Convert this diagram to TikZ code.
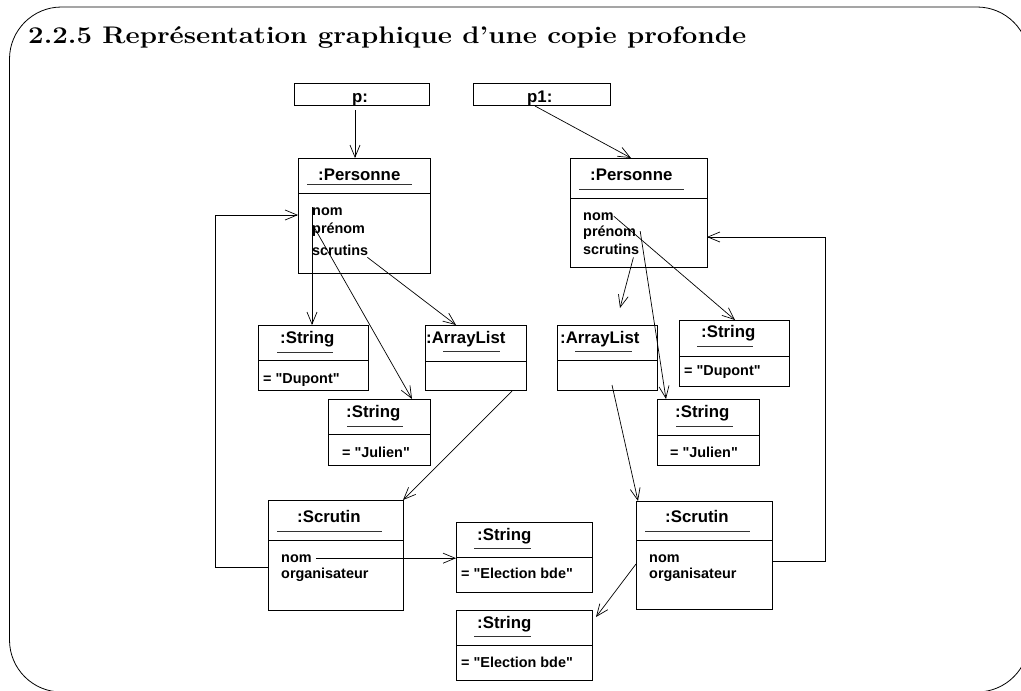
\documentclass[tikz,border=0pt]{standalone}
\usepackage{fontspec}
\newfontfamily\diagfont{Liberation Sans}
\usetikzlibrary{arrows.meta,calc}
\tikzset{
  objbox/.style={draw, line width=0.9pt, inner sep=0pt, outer sep=0pt, anchor=north west},
  objline/.style={line width=0.9pt},
  uline/.style={line width=0.8pt, black!80},
  ttl/.style={font={\diagfont\bfseries\fontsize{16.8}{20}\selectfont}, inner sep=0pt, anchor=base west},
  att/.style={font={\diagfont\bfseries\fontsize{14.4}{17}\selectfont}, inner sep=0pt, anchor=base west},
  arr/.style={line width=0.7pt, -{Straight Barb[length=12pt,width=10pt,line width=0.7pt]}},
}
\newcommand\umlobj[6]{%
  \node[objbox, minimum width=#4pt, minimum height=#5pt] (#1) at (#2,#3) {};
  \draw[objline] ($(#1.north west)+(0,#6)$) -- ($(#1.north east)+(0,#6)$);
}
\begin{document}
\begin{tikzpicture}[x=1pt,y=-1pt]
\useasboundingbox (0,0) rectangle (1021,691);
\clip (0,0) rectangle (1021,691);
% frame
\draw[line width=0.8pt, rounded corners=52pt] (9.5,7) rectangle (1029,692);
% title
\node[inner sep=0pt, anchor=base west, xscale=1.15, font={\bfseries\fontsize{24}{28}\selectfont}] (title) at (28,43) {2.2.5 Représentation graphique d’une copie profonde};

% reference boxes
\node[objbox, minimum width=135pt, minimum height=22pt] (pbox) at (294,83) {};
\node[ttl] (pbox-t) at (352,102) {p:};
\node[objbox, minimum width=137pt, minimum height=22pt] (p1box) at (473,83) {};
\node[ttl] (p1box-t) at (527,102) {p1:};

% ---------- left side ----------
\umlobj{persL}{298}{158}{132}{115}{35}
\node[ttl] (persL-t) at (318,180) {:Personne};
\draw[uline] (307,184) -- (412,184);
\node[att] (nomL) at (312,215) {nom};
\node[att] (prenomL) at (312,233) {prénom};
\node[att] (scrutinsL) at (312,255) {scrutins};

\umlobj{strDL}{258}{325}{110}{65}{35}
\node[ttl] (strDL-t) at (280,343) {:String};
\draw[uline] (277,352) -- (333,352);
\node[att] (strDL-v) at (263,383) {= "Dupont"};

\umlobj{strJL}{328}{399}{102}{66}{35}
\node[ttl] (strJL-t) at (346,417) {:String};
\draw[uline] (347,426) -- (403,426);
\node[att] (strJL-v) at (342,457) {= "Julien"};

\umlobj{alL}{425}{325}{101}{65}{36}
\node[ttl] (alL-t) at (426,343) {:ArrayList};
\draw[uline] (443,351) -- (500,351);

\umlobj{scrL}{268}{500}{135}{110}{40}
\node[ttl] (scrL-t) at (297,522) {:Scrutin};
\draw[uline] (277,531) -- (382,531);
\node[att] (nomSL) at (281,562) {nom};
\node[att] (orgSL) at (281,578) {organisateur};

\umlobj{strE1}{456}{522}{136}{70}{35}
\node[ttl] (strE1-t) at (477,540) {:String};
\draw[uline] (474,548) -- (531,548);
\node[att] (strE1-v) at (461,578) {= "Election bde"};

\umlobj{strE2}{456}{610}{136}{70}{35}
\node[ttl] (strE2-t) at (477,628) {:String};
\draw[uline] (474,636) -- (531,636);
\node[att] (strE2-v) at (461,667) {= "Election bde"};

% ---------- right side ----------
\umlobj{persR}{570}{158}{137}{109}{40}
\node[ttl] (persR-t) at (590,180) {:Personne};
\draw[uline] (579,189) -- (684,189);
\node[att] (nomR) at (583,220) {nom};
\node[att] (prenomR) at (583,236) {prénom};
\node[att] (scrutinsR) at (583,254) {scrutins};

\umlobj{strDR}{679}{320}{110}{66}{36}
\node[ttl] (strDR-t) at (701,337) {:String};
\draw[uline] (697,346) -- (753,346);
\node[att] (strDR-v) at (684,375) {= "Dupont"};

\umlobj{strJR}{657}{399}{102}{66}{36}
\node[ttl] (strJR-t) at (675,417) {:String};
\draw[uline] (676,426) -- (733,426);
\node[att] (strJR-v) at (670,457) {= "Julien"};

\umlobj{alR}{557}{325}{100}{65}{35}
\node[ttl] (alR-t) at (560,343) {:ArrayList};
\draw[uline] (575,351) -- (632,351);

\umlobj{scrR}{636}{501}{136}{108}{39}
\node[ttl] (scrR-t) at (665,522) {:Scrutin};
\draw[uline] (645,531) -- (750,531);
\node[att] (nomSR) at (649,562) {nom};
\node[att] (orgSR) at (649,578) {organisateur};

% ---------- connectors ----------
\draw[arr] ($(pbox.south west)+(61,5)$) -- ($(persL.north west)+(57,0)$);
\draw[arr] ($(p1box.south west)+(62,1)$) -- ($(persR.north west)+(61,0)$);

\draw[arr] (nomL.north west) -- (nomL.north west |- strDL.north);
\draw[arr] ($(prenomL.west)+(1,-4)$) -- ($(strJL.north west)+(84,0)$);
\draw[arr] ($(scrutinsL.south east)+(-1,2)$) -- ($(alL.north west)+(31,0)$);
\draw[arr] ($(alL.south west)+(87,1)$) -- (scrL.north east);
\draw[arr] ($(scrL.north west)+(0,67)$) -- ++(-53,0) |- ($(persL.north west)+(0,57)$);
\draw[arr] ([xshift=4pt]nomSL.east) -- (strE1.west |- nomSL.east);

\draw[arr] ($(scrutinsR.south east)+(-6,3)$) -- ($(alR.north west)+(63,-17)$);
\draw[arr] ($(prenomR.east)+(4,-1)$) -- ($(strJR.north west)+(9,0)$);
\draw[arr] (nomR.east) -- ($(strDR.north west)+(56,0)$);
\draw[arr] ($(alR.south west)+(55,-5)$) -- ($(scrR.north west)+(2,0)$);
\draw[arr] ($(scrR.north east)+(0,60)$) -- ++(53,0) |- ($(persR.north east)+(0,79)$);
\draw[arr] ($(scrR.north west)+(0,63)$) -- ($(strE2.north east)+(4,7)$);
\end{tikzpicture}
\end{document}
